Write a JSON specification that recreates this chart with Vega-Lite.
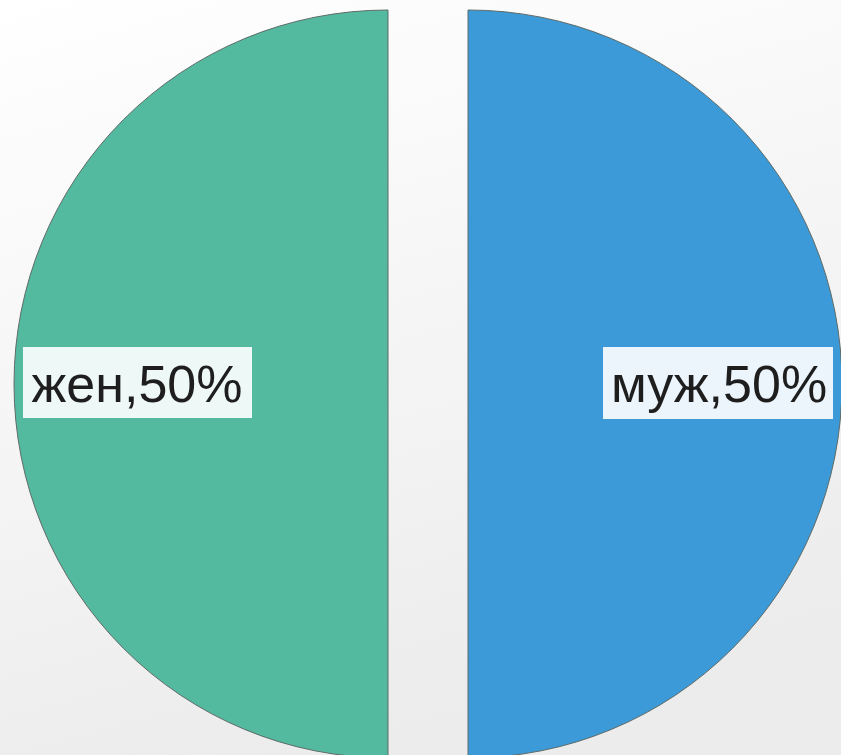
{
  "$schema": "https://vega.github.io/schema/vega-lite/v6.json",
  "width": 841,
  "height": 768,
  "padding": 0,
  "autosize": {"type": "none"},
  "background": "#f7f7f7",
  "config": {"view": {"stroke": null}},
  "data": {"values": [
    {"sex": "жен", "pct": 50, "label": "жен,50%"},
    {"sex": "муж", "pct": 50, "label": "муж,50%"}
  ]},
  "layer": [
    {
      "data": {"values": [{"bg": 1}]},
      "mark": {"type": "rect", "fill": {"gradient": "linear", "x1": 0, "y1": 0, "x2": 0.3, "y2": 1, "stops": [{"offset": 0, "color": "#ffffff"}, {"offset": 1, "color": "#ececec"}]}},
      "encoding": {}
    },
    {
      "mark": {"type": "arc", "outerRadius": 374, "stroke": "#5f6b68", "strokeWidth": 1},
      "encoding": {
        "x": {"field": "sex", "type": "nominal", "scale": {"type": "point", "domain": ["жен", "муж"], "range": [388, 468], "padding": 0}, "axis": null},
        "theta": {"field": "pct", "type": "quantitative", "stack": true, "scale": {"domain": [0, 100]}},
        "order": {"field": "sex", "sort": "descending"},
        "color": {"field": "sex", "type": "nominal", "scale": {"domain": ["жен", "муж"], "range": ["#53BA9F", "#3C9AD9"]}, "legend": null}
      }
    },
    {
      "mark": {"type": "point", "filled": true, "size": 4, "fill": "#ffffff", "fillOpacity": 0.9, "strokeWidth": 0, "opacity": 1},
      "encoding": {
        "x": {"field": "sex", "type": "nominal", "scale": {"type": "point", "domain": ["жен", "муж"], "range": [388, 468], "padding": 0}, "axis": null},
        "shape": {"field": "sex", "type": "nominal", "scale": {"domain": ["жен", "муж"], "range": ["M-365,-37H-136V34H-365Z", "M135,-37H365V35H135Z"]}, "legend": null}
      }
    },
    {
      "mark": {"type": "text", "radius": 251, "font": "Liberation Sans", "fontSize": 52, "fill": "#1e1e1e", "align": "center", "baseline": "alphabetic", "dy": 18},
      "encoding": {
        "x": {"field": "sex", "type": "nominal", "scale": {"type": "point", "domain": ["жен", "муж"], "range": [388, 468], "padding": 0}, "axis": null},
        "theta": {"field": "pct", "type": "quantitative", "stack": true, "scale": {"domain": [0, 100]}},
        "order": {"field": "sex", "sort": "descending"},
        "text": {"field": "label", "type": "nominal"}
      }
    }
  ]
}
